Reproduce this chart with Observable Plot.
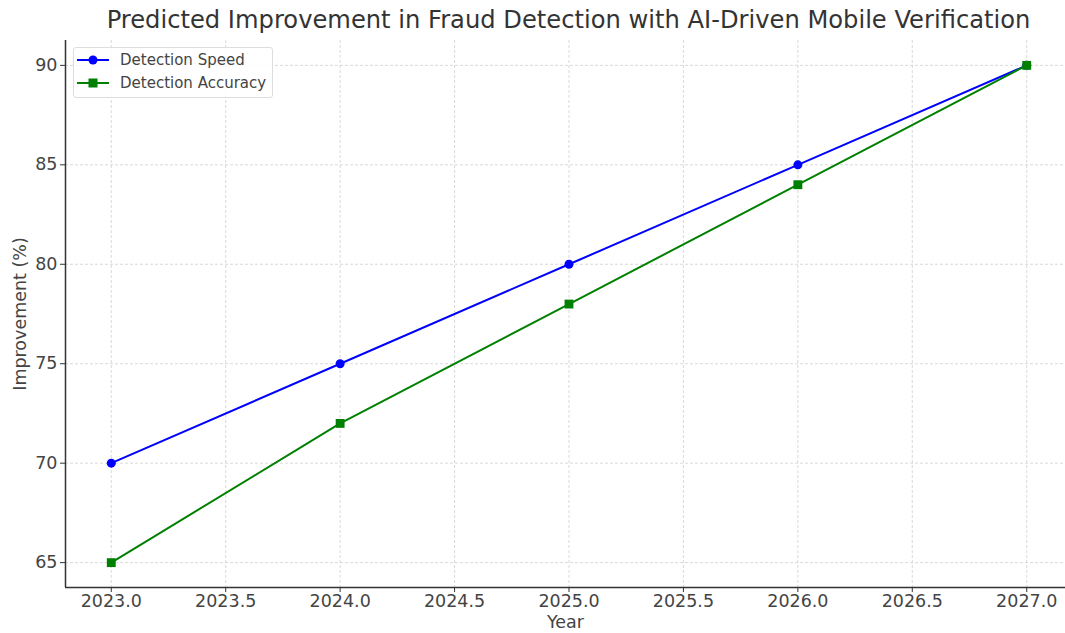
<!DOCTYPE html>
<html>
<head>
<meta charset="utf-8">
<script src="https://cdn.jsdelivr.net/npm/d3@7"></script>
<script src="https://cdn.jsdelivr.net/npm/@observablehq/plot@0.6"></script>
<style>
  body { margin: 0; background: #fff; font-family: "DejaVu Sans", sans-serif; }
  #wrap { position: relative; width: 1065px; height: 633px; }
  #title { height: 40px; line-height: 40px; width: 1065px; box-sizing: border-box; padding-left: 72px; text-align: center; font-size: 24.2px; color: #333; white-space: nowrap; }
  #legend { position: absolute; left: 73px; top: 47px; width: 200px; height: 51px; border: 1px solid #ddd; border-radius: 3px; background: rgba(255,255,255,0.85); box-sizing: border-box; font-size: 15px; color: #444; }
  .row { position: absolute; left: 3px; height: 20px; display: flex; align-items: center; }
  .row span { margin-left: 11px; }
</style>
</head>
<body>
<div id="wrap">
  <div id="title">Predicted Improvement in Fraud Detection with AI-Driven Mobile Verification</div>
  <div id="chart"></div>
  <div id="legend"></div>
</div>
<script>
const years = [2023, 2024, 2025, 2026, 2027];
const detectionSpeed = [70, 75, 80, 85, 90];
const detectionAccuracy = [65, 72, 78, 84, 90];
const seriesNames = ["Detection Speed", "Detection Accuracy"];
const seriesColors = ["#0000ff", "#008000"];
const xTicks = [2023, 2023.5, 2024, 2024.5, 2025, 2025.5, 2026, 2026.5, 2027];
const yTicks = [65, 70, 75, 80, 85, 90];

const speedData = years.map((y, i) => ({year: y, value: detectionSpeed[i]}));
const accData = years.map((y, i) => ({year: y, value: detectionAccuracy[i]}));

const xDomain = [2022.8, 2027.2];
const yDomain = [63.75, 91.25];

const chart = Plot.plot({
  width: 1065,
  height: 593,
  marginTop: 0,
  marginBottom: 46,
  marginLeft: 65,
  marginRight: 0,
  style: {fontFamily: "DejaVu Sans, sans-serif", fontSize: "17.5px", color: "#444", background: "#fff"},
  x: {domain: xDomain, range: [65, 1072]},
  y: {domain: yDomain},
  marks: [
    Plot.gridX(xTicks, {stroke: "#bbb", strokeOpacity: 0.7, strokeDasharray: "3,2", strokeWidth: 0.8}),
    Plot.gridY(yTicks, {stroke: "#bbb", strokeOpacity: 0.7, strokeDasharray: "3,2", strokeWidth: 0.8}),
    Plot.axisX({ticks: xTicks, tickFormat: d3.format(".1f"), tickSize: 5, tickPadding: 2, label: null, stroke: "#333"}),
    Plot.axisY({ticks: yTicks, tickSize: 5, tickPadding: 3, label: null, stroke: "#333"}),
    Plot.ruleX([xDomain[0]], {stroke: "#333", strokeWidth: 1.5}),
    Plot.ruleY([yDomain[0]], {stroke: "#333", strokeWidth: 1.5}),
    Plot.line(speedData, {x: "year", y: "value", stroke: seriesColors[0], strokeWidth: 2}),
    Plot.dot(speedData, {x: "year", y: "value", fill: seriesColors[0], r: 4.5, symbol: "circle"}),
    Plot.line(accData, {x: "year", y: "value", stroke: seriesColors[1], strokeWidth: 2}),
    Plot.dot(accData, {x: "year", y: "value", fill: seriesColors[1], r: 5, symbol: "square"}),
    Plot.text(["Year"], {frameAnchor: "bottom", dy: 40, text: d => d, fontSize: 17.5, fill: "#444"}),
    Plot.text(["Improvement (%)"], {frameAnchor: "left", textAnchor: "middle", dx: -45, rotate: -90, text: d => d, fontSize: 17.5, fill: "#444"})
  ]
});
document.getElementById("chart").appendChild(chart);

// legend
const legend = document.getElementById("legend");
const markers = [
  '<circle cx="16" cy="6" r="4.5" fill="#0000ff"/>',
  '<rect x="11.5" y="1.5" width="9" height="9" fill="#008000"/>'
];
seriesNames.forEach((name, i) => {
  const row = document.createElement("div");
  row.className = "row";
  row.style.top = (2 + i * 23) + "px";
  row.innerHTML = `<svg width="32" height="12"><line x1="0" x2="32" y1="6" y2="6" stroke="${seriesColors[i]}" stroke-width="2"/>${markers[i]}</svg><span>${name}</span>`;
  legend.appendChild(row);
});
</script>
</body>
</html>
